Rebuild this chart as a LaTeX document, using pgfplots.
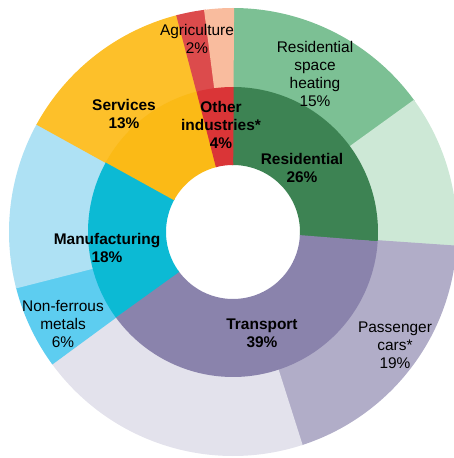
\documentclass[border=0pt]{standalone}
\usepackage{fontspec}
\setmainfont{Liberation Sans}
\usepackage{pgfplots}
\pgfplotsset{compat=1.18}
\usepgfplotslibrary{polar}

\definecolor{resdark}{HTML}{3D8353}
\definecolor{resheat}{HTML}{7CC094}
\definecolor{resrest}{HTML}{CDE8D6}
\definecolor{trdark}{HTML}{8A83AC}
\definecolor{trcars}{HTML}{B1ADC8}
\definecolor{trrest}{HTML}{E3E2EC}
\definecolor{mfdark}{HTML}{0CBAD4}
\definecolor{mfnonf}{HTML}{5DCDF0}
\definecolor{mfrest}{HTML}{AEE1F4}
\definecolor{svinner}{HTML}{FBBA16}
\definecolor{svouter}{HTML}{FDC02A}
\definecolor{otinner}{HTML}{DA3537}
\definecolor{otagri}{HTML}{DC4B4C}
\definecolor{otrest}{HTML}{F9BC9E}

% ring segment: colour, from %, to % (cumulative, clockwise from top), mid radius, thickness
% (a quarter degree of overlap on each side hides anti-aliasing seams)
\newcommand{\seg}[5]{%
  \addplot[draw=#1, line width=#5bp, line cap=butt, no marks,
    samples=60, domain=90-3.6*#3-0.25:90-3.6*#2+0.25] {#4};}

\begin{document}
\begin{tikzpicture}
\begin{polaraxis}[
    hide axis,
    scale only axis,
    width=448bp, height=448bp,
    ymin=0, ymax=224,
    clip=false,
]
\coordinate (c) at (axis cs:0,0);

% outer ring (reaches under the inner ring so no seam shows)
\seg{resheat}{0}{15}{172}{104}
\seg{resrest}{15}{26}{172}{104}
\seg{trcars}{26}{45}{172}{104}
\seg{trrest}{45}{65}{172}{104}
\seg{mfnonf}{65}{71}{172}{104}
\seg{mfrest}{71}{83}{172}{104}
\seg{svouter}{83}{96}{172}{104}
\seg{otagri}{96}{98}{172}{104}
\seg{otrest}{98}{100}{172}{104}

% inner ring
\seg{resdark}{0}{26}{106}{78}
\seg{trdark}{26}{65}{106}{78}
\seg{mfdark}{65}{83}{106}{78}
\seg{svinner}{83}{96}{106}{78}
\seg{otinner}{96}{100}{106}{78}
\end{polaraxis}

\begin{scope}[shift={(c)}, x=1bp, y=1bp,
    every node/.style={align=center, inner sep=0pt,
      font=\fontsize{15.5}{18.3}\selectfont}]
\node at (82,158) {Residential\\space\\heating\\15\%};
\node at (162,-113) {Passenger\\cars*\\19\%};
\node at (-170,-92) {Non-ferrous\\metals\\6\%};
\node at (-36,193) {Agriculture\\2\%};
\node[font=\bfseries\fontsize{15.5}{18.3}\selectfont] at (-109,118) {Services\\13\%};
\node[font=\bfseries\fontsize{15.5}{18.3}\selectfont] at (-12,107) {Other\\industries*\\4\%};
\node[font=\bfseries\fontsize{15.5}{18.3}\selectfont] at (69,64) {Residential\\26\%};
\node[font=\bfseries\fontsize{15.5}{18.3}\selectfont] at (-126,-16) {Manufacturing\\18\%};
\node[font=\bfseries\fontsize{15.5}{18.3}\selectfont] at (29,-101) {Transport\\39\%};
\end{scope}

\pgfresetboundingbox
\path[use as bounding box] ([shift={(-233bp,-226bp)}]c) rectangle ([shift={(221bp,232bp)}]c);
\end{tikzpicture}
\end{document}
